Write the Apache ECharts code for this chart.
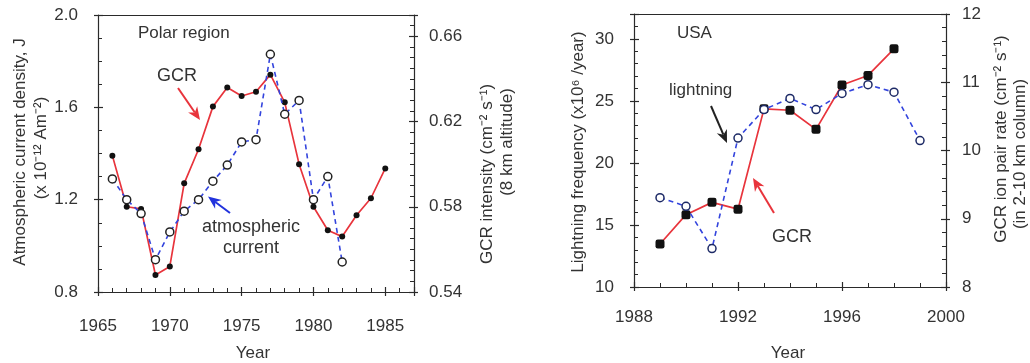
<!DOCTYPE html>
<html>
<head>
<meta charset="utf-8">
<script src="https://cdn.jsdelivr.net/npm/echarts@6/dist/echarts.min.js"></script>
<style>
html,body{margin:0;padding:0;background:#fff;}
#c{width:1030px;height:363px;}
</style>
</head>
<body>
<div id="c"></div>
<script>
// ---- Data: Polar region ----
const polarGcrYears = [1966,1967,1968,1969,1970,1971,1972,1973,1974,1975,1976,1977,1978,1979,1980,1981,1982,1983,1984,1985];
const polarGcr = [0.604,0.580,0.579,0.548,0.552,0.591,0.607,0.627,0.636,0.632,0.634,0.642,0.629,0.600,0.580,0.569,0.566,0.576,0.584,0.598];
const polarCurYears = [1966,1967,1968,1969,1970,1971,1972,1973,1974,1975,1976,1977,1978,1979,1980,1981,1982];
const polarCur = [1.29,1.20,1.14,0.94,1.06,1.15,1.20,1.28,1.35,1.45,1.46,1.83,1.57,1.63,1.20,1.30,0.93];
// ---- Data: USA ----
const usaGcrYears = [1989,1990,1991,1992,1993,1994,1995,1996,1997,1998];
const usaGcr = [8.63,9.06,9.24,9.14,10.61,10.59,10.31,10.96,11.10,11.49];
const usaLightYears = [1989,1990,1991,1992,1993,1994,1995,1996,1997,1998,1999];
const usaLight = [17.2,16.5,13.1,22.0,24.3,25.2,24.3,25.6,26.3,25.7,21.8];
// ---- Tick settings ----
const polarYearTicks = {min:1965, max:1987, interval:5};
const polarCurTicks = {min:0.8, max:2.0, interval:0.4};
const polarGcrTicks = {min:0.54, max:0.67, interval:0.04};
const usaYearTicks = {min:1988, max:2000, interval:4};
const usaLightTicks = {min:10, max:32, interval:5};
const usaGcrTicks = {min:8, max:12, interval:1};

const FONT = '"Liberation Sans", Arial, Helvetica, sans-serif';
const TXT = '#333';
const AX = '#2a2a2a';
const RED = '#e8343c';
const BLUE = '#3344dd';
const pair = (xs, ys) => xs.map((x,i)=>[x, ys[i]]);

function mainAxis(t, gi, pos, fmt, minorSplit, margin, showMax){
  return Object.assign({type:'value', gridIndex:gi, position:pos}, t, {
    axisLine:{show:true, onZero:false, lineStyle:{color:AX, width:1.2}},
    axisTick:{show:true, inside:true, length:5, lineStyle:{color:AX, width:1.2}},
    minorTick:{show:true, splitNumber:minorSplit, length:4, lineStyle:{color:AX, width:1}},
    splitLine:{show:false}, minorSplitLine:{show:false},
    axisLabel:{show:true, color:TXT, fontSize:17, fontFamily:FONT, margin:margin, showMinLabel:true, showMaxLabel:showMax, formatter:fmt}
  });
}
function dupAxis(t, gi, pos){
  return Object.assign({type:'value', gridIndex:gi, position:pos}, t, {
    axisLine:{show:false, onZero:false},
    axisTick:{show:true, inside:false, length:4, lineStyle:{color:AX, width:1.2}},
    minorTick:{show:false}, splitLine:{show:false},
    axisLabel:{show:false}
  });
}
function topAxis(t, gi){
  return Object.assign({type:'value', gridIndex:gi, position:'top'}, t, {
    axisLine:{show:true, onZero:false, lineStyle:{color:AX, width:1.2}},
    axisTick:{show:false}, minorTick:{show:false}, splitLine:{show:false}, axisLabel:{show:false}
  });
}

function arrow(x1,y1,x2,y2,color){
  const a = Math.atan2(y2-y1, x2-x1), c=Math.cos(a), s=Math.sin(a);
  const hl=13, hw=11;
  const bx=x2-hl*c, by=y2-hl*s, nx=x2-hl*0.7*c, ny=y2-hl*0.7*s;
  const px=-s, py=c;
  return [
    {type:'line', shape:{x1:x1,y1:y1,x2:nx,y2:ny}, style:{stroke:color, lineWidth:2}},
    {type:'polygon', shape:{points:[[x2,y2],[bx+px*hw/2,by+py*hw/2],[nx,ny],[bx-px*hw/2,by-py*hw/2]]}, style:{fill:color}}
  ];
}
function txt(x,y,text,opts){
  opts = opts||{};
  return {type:'text', x:x, y:y, rotation:opts.rot||0,
    style:{text:text, fill:TXT, font:(opts.size||17)+'px '+FONT, align:opts.align||'center', verticalAlign:'middle', lineHeight:opts.lh||20}};
}

const chart = echarts.init(document.getElementById('c'));
const option = {
  backgroundColor:'#fff',
  animation:false,
  grid:[
    {left:98, top:15, width:316, height:277},
    {left:634, top:14, width:312, height:273}
  ],
  xAxis:[
    mainAxis(polarYearTicks, 0, 'bottom', v=>String(v), 5, 26, false),
    dupAxis(polarYearTicks, 0, 'bottom'),
    mainAxis(usaYearTicks, 1, 'bottom', v=>String(v), 4, 22, true),
    dupAxis(usaYearTicks, 1, 'bottom'),
    topAxis(polarYearTicks, 0),
    topAxis(usaYearTicks, 1)
  ],
  yAxis:[
    mainAxis(polarCurTicks, 0, 'left', v=>v.toFixed(1), 4, 20, true),
    mainAxis(polarGcrTicks, 0, 'right', v=>v.toFixed(2), 8, 15, false),
    dupAxis(polarCurTicks, 0, 'left'),
    dupAxis(polarGcrTicks, 0, 'right'),
    mainAxis(usaLightTicks, 1, 'left', v=>String(v), 5, 20, false),
    mainAxis(usaGcrTicks, 1, 'right', v=>String(v), 5, 16, true),
    dupAxis(usaLightTicks, 1, 'left'),
    dupAxis(usaGcrTicks, 1, 'right')
  ],
  series:[
    {type:'line', name:'GCR', xAxisIndex:0, yAxisIndex:1, data:pair(polarGcrYears, polarGcr),
      lineStyle:{color:RED, width:1.7}, symbol:'circle', symbolSize:6,
      itemStyle:{color:'#111', borderColor:'#111', borderWidth:0}, z:2},
    {type:'line', name:'atmospheric current', xAxisIndex:0, yAxisIndex:0, data:pair(polarCurYears, polarCur),
      lineStyle:{color:BLUE, width:1.6, type:[5,4]}, symbol:'circle', symbolSize:8,
      itemStyle:{color:'#fff', borderColor:'#222', borderWidth:1.5}, z:3},
    {type:'line', name:'GCR', xAxisIndex:2, yAxisIndex:5, data:pair(usaGcrYears, usaGcr),
      lineStyle:{color:RED, width:1.7}, symbol:'roundRect', symbolSize:9,
      itemStyle:{color:'#111', borderColor:'#111', borderWidth:0}, z:2},
    {type:'line', name:'lightning', xAxisIndex:2, yAxisIndex:4, data:pair(usaLightYears, usaLight),
      lineStyle:{color:BLUE, width:1.6, type:[5,4]}, symbol:'circle', symbolSize:8,
      itemStyle:{color:'#fff', borderColor:'#1d2a66', borderWidth:1.5}, z:3}
  ],
  graphic:[].concat(
    [
      txt(20,152,'Atmospheric current density, J',{rot:Math.PI/2}),
      txt(41,148,'(x 10\u207B\u00B9\u00B2 Am\u207B\u00B2)',{rot:Math.PI/2}),
      txt(487,174,'GCR intensity (cm\u207B\u00B2 s\u207B\u00B9)',{rot:Math.PI/2}),
      txt(507,142,'(8 km altitude)',{rot:Math.PI/2}),
      txt(253,353,'Year'),
      txt(578,152,'Lightning frequency (x10\u2076 /year)',{rot:Math.PI/2}),
      txt(1001,139,'GCR ion pair rate (cm\u207B\u00B2 s\u207B\u00B9)',{rot:Math.PI/2}),
      txt(1020,154,'(in 2-10 km column)',{rot:Math.PI/2}),
      txt(788,353,'Year'),
      txt(138,33,'Polar region',{align:'left'}),
      txt(157,76,'GCR',{align:'left',size:18}),
      txt(251,238,'atmospheric\ncurrent',{size:18,lh:21}),
      txt(677,33,'USA',{align:'left'}),
      txt(669,90,'lightning',{align:'left'}),
      txt(772,237,'GCR',{align:'left',size:18})
    ],
    arrow(178,88,200,120,RED),
    arrow(230,213,208,196.5,'#2233dd'),
    arrow(711,106,727,143,'#222'),
    arrow(774,213,753,178,RED)
  )
};
chart.setOption(option);
</script>
</body>
</html>
